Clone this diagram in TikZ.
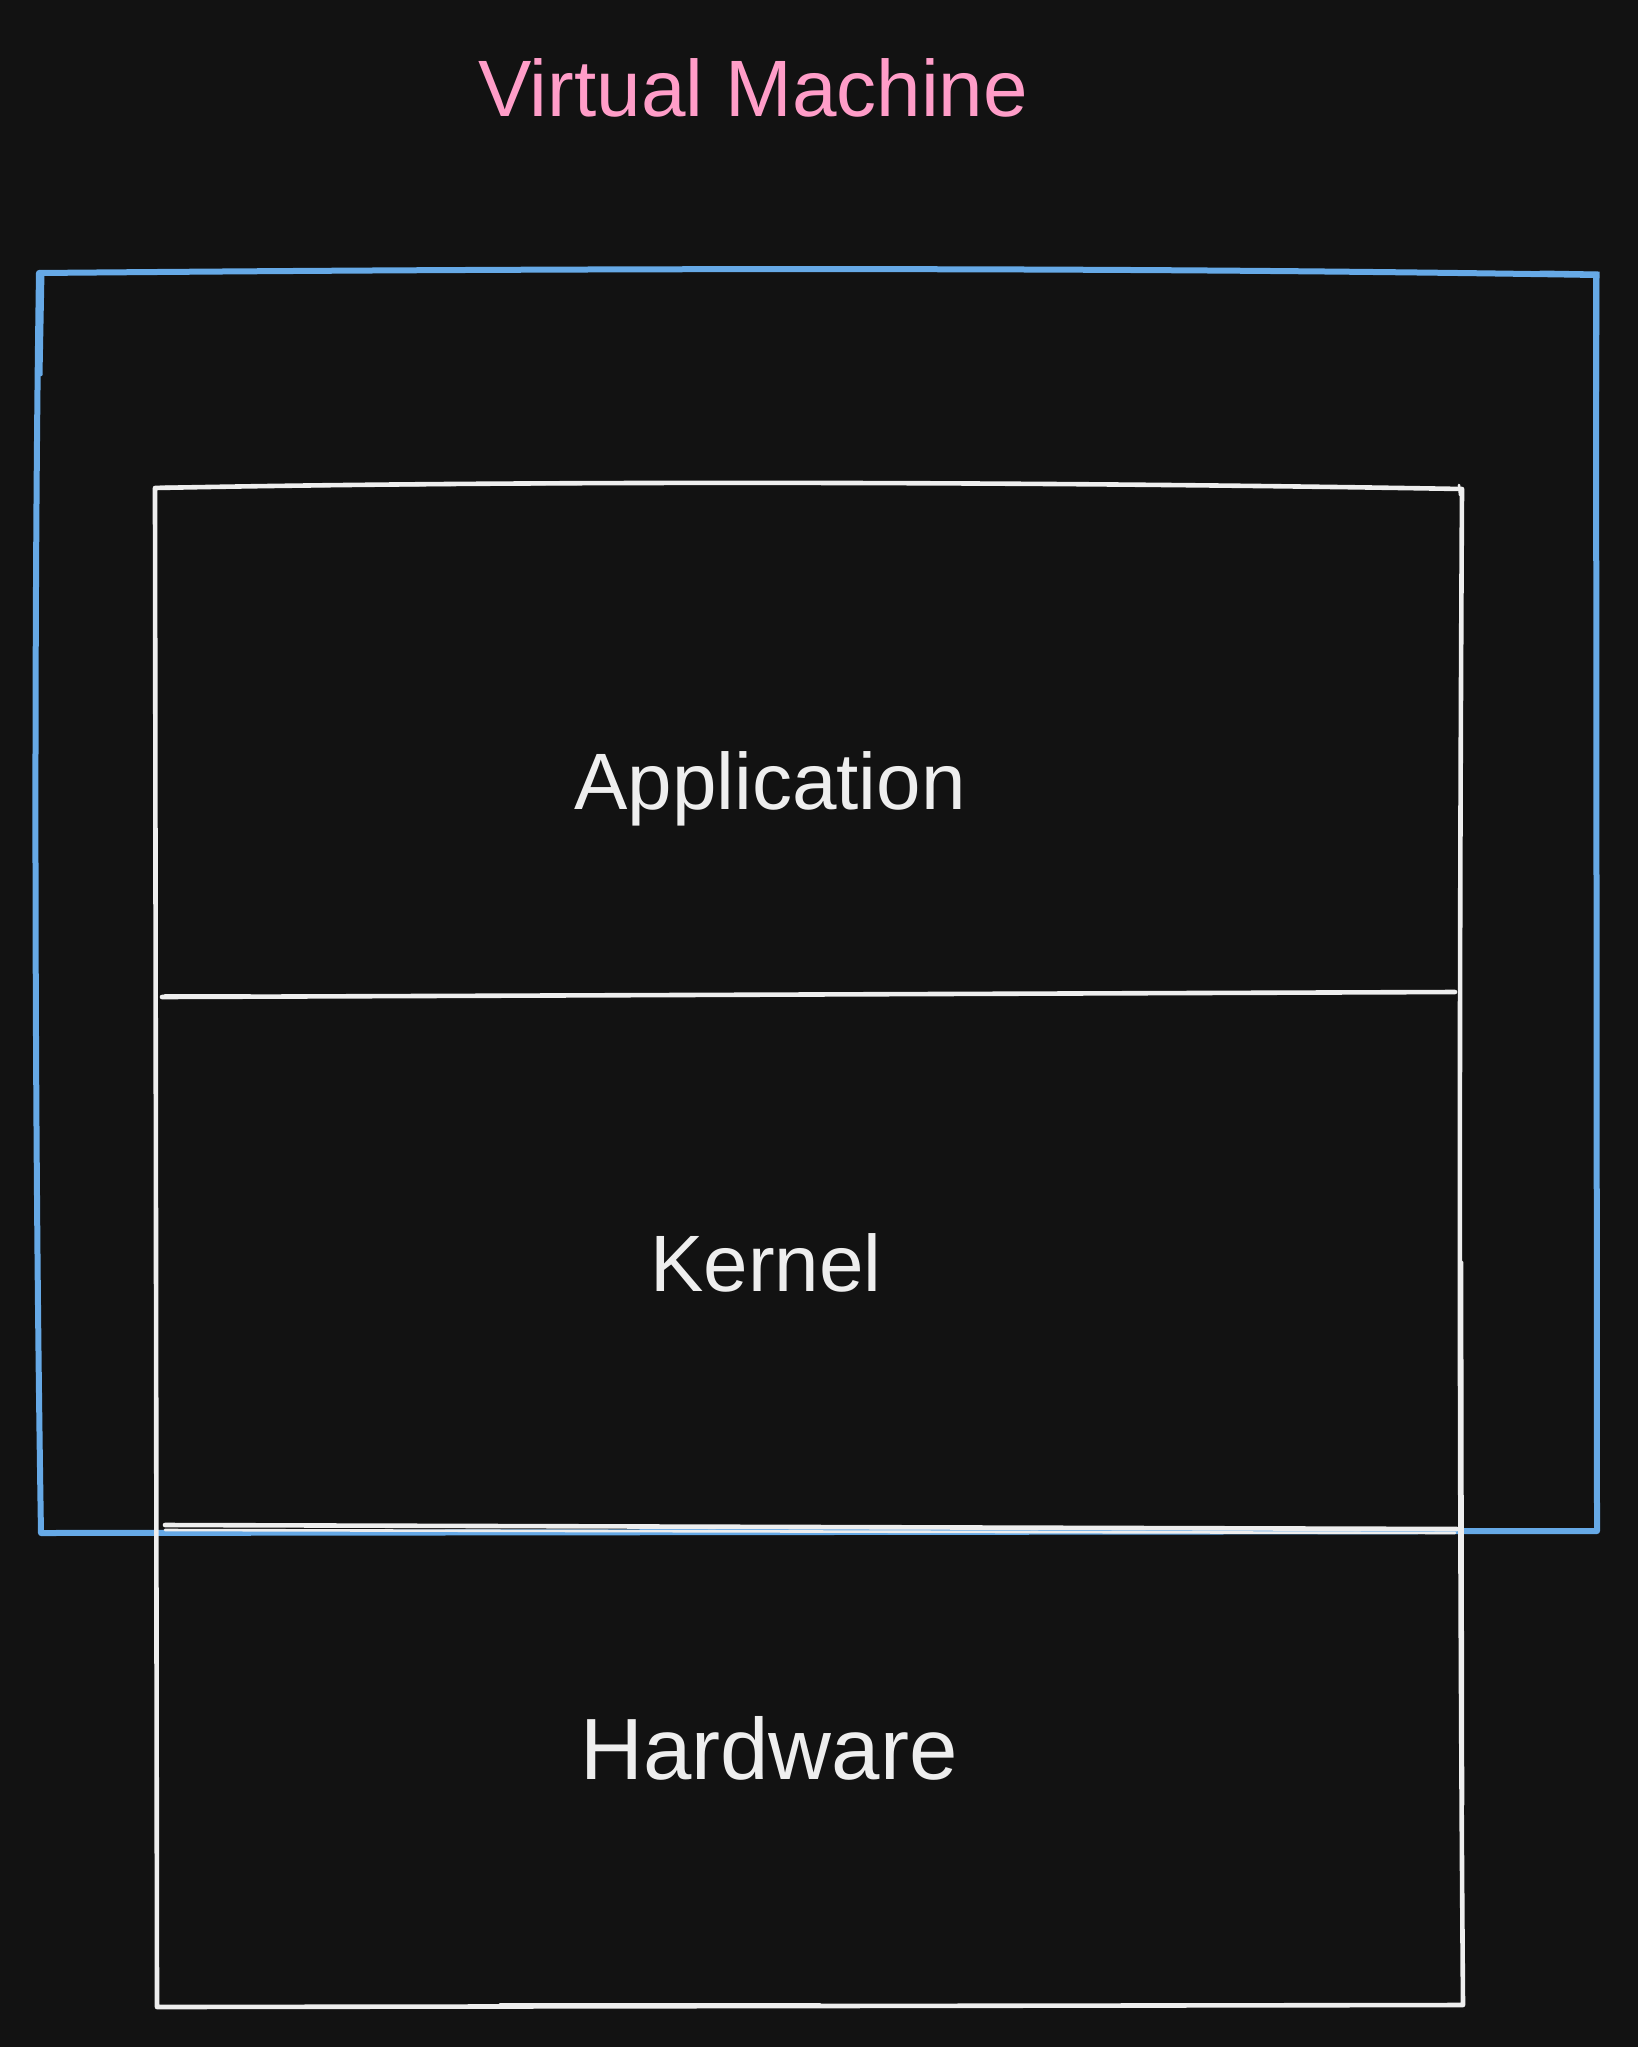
\documentclass[tikz,border=0pt]{standalone}
\usepackage{fontspec}
\setmainfont{Liberation Sans}
\definecolor{bg}{HTML}{121212}
\definecolor{vmblue}{HTML}{66A9E6}
\definecolor{vmpink}{HTML}{FF9DC8}
\definecolor{ink}{HTML}{EEEEEE}
\tikzset{
  bluestroke/.style={draw=vmblue,line width=6pt,line cap=round,line join=round},
  bluethin/.style={draw=vmblue,line width=3pt,line cap=round},
  whitestroke/.style={draw=ink,line width=4.6pt,line cap=round,line join=round},
  whitethin/.style={draw=ink,line width=2.6pt,line cap=round},
  label/.style={text=ink,font=\fontsize{80}{90}\selectfont,inner sep=0pt,anchor=base},
  title/.style={text=vmpink,font=\fontsize{80}{90}\selectfont,inner sep=0pt,anchor=base}
}
\begin{document}
\begin{tikzpicture}[x=1pt,y=-1pt]
\fill[bg] (0,0) rectangle (1638,2047);
\useasboundingbox (0,0) rectangle (1638,2047);
% title
\node[title] (vm) at (753,117) {Virtual Machine};
% blue VM box
\draw[bluestroke] (39,273) .. controls (600,268) and (1100,267) .. (1596,275)
  -- (1597,1531) -- (41,1533) .. controls (34,1100) and (34,600) .. (39,273);
\draw[bluethin] (43,272) -- (41,375);
\draw[bluethin] (1540,272) -- (1598,273) -- (1597,500);
\draw[bluethin] (600,270) -- (1040,270);
% white stack box
\draw[whitestroke] (155,488) .. controls (500,481) and (1000,481) .. (1462,489)
  .. controls (1459,1000) and (1459,1500) .. (1463,2005)
  -- (157,2007) -- (155,488);
\draw[whitethin] (160,487) -- (665,483);
\draw[whitethin] (1459,485) -- (1460,495);
\draw[whitethin] (1462,1262) -- (1463,1805);
\draw[whitethin] (500,2004) -- (820,2004);
% separators
\draw[whitestroke] (162,997) -- (1455,992);
\draw[whitethin] (165,995) -- (250,995);
\draw[whitestroke] (165,1525) -- (1457,1529);
\draw[whitethin] (165,1530) -- (1455,1533);
% labels
\node[label] (app) at (770,809) {Application};
\node[label] (kern) at (766,1291) {Kernel};
\node[label,font=\fontsize{87}{95}\selectfont] (hw) at (769,1779) {Hardware};
\end{tikzpicture}
\end{document}
